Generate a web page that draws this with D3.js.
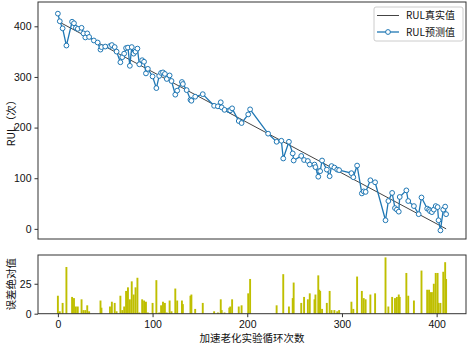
<!DOCTYPE html>
<html><head><meta charset="utf-8">
<script src="https://cdn.jsdelivr.net/npm/d3@7"></script>
<style>
body{margin:0;background:#fff;}
text{font-family:"Noto Sans CJK SC","DejaVu Sans",sans-serif;}
</style></head>
<body><svg id="c" width="468" height="346"></svg>
<script>
// ---- data ----
const cycles = [0,2,5,9,15,17,19,21,25,27,29,31,33,38,42,45,46,50,55,57,60,62,66,68,70,72,74,76,78,80,82,84,86,89,91,93,95,100,104,107,109,111,113,115,118,120,124,126,131,132,136,140,141,145,153,165,169,172,173,176,181,182,184,191,194,201,203,222,231,236,238,244,248,249,257,260,264,266,271,272,275,276,277,279,284,287,289,292,295,297,310,312,316,321,323,325,330,335,346,349,353,356,358,360,361,368,370,376,381,384,390,392,393,395,397,399,401,402,404,407,409,410];
const predRUL = [425,410,396,362,409,406,397,395,397,386,378,386,379,372,368,354,359,360,361,363,359,350,329,339,346,357,358,322,359,346,350,356,325,333,330,307,316,301,278,302,308,309,306,296,303,292,265,273,290,286,274,255,253,261,266,243,242,250,240,235,234,234,238,213,209,226,236,188,172,174,139,172,149,135,144,136,134,127,127,122,103,114,114,135,117,104,124,121,117,116,110,102,125,70,74,73,96,92,17,55,71,41,38,34,63,76,55,45,29,62,40,38,35,33,38,45,43,17,-3,38,44,29];
const absError = [15,2,9,39,14,13,6,6,12,3,3,7,2,0,0,11,5,0,6,10,9,2,15,3,6,19,22,12,27,16,22,30,1,12,11,10,1,9,28,1,7,10,9,1,11,2,21,11,11,8,0,15,16,4,9,2,1,12,3,1,5,6,12,6,7,17,29,0,7,0,33,6,13,26,9,14,12,17,12,16,32,20,19,4,9,19,3,3,2,3,10,4,31,19,13,12,16,17,47,6,14,13,14,16,14,34,15,11,0,36,20,20,18,18,25,34,34,9,9,35,43,29];
const trueCycles = [0, 410];
const trueRUL = [410, 0];
const topTicks = [0,100,200,300,400];
const bottomTicks = [0,25];
const xTicks = [0,100,200,300,400];
const legendLabels = ["RUL真实值","RUL预测值"];
const yLabelTop = "RUL（次）";
const yLabelBottom = "误差绝对值";
const xLabel = "加速老化实验循环次数";

// ---- drawing ----
const svg = d3.select("#c");
const L = 38, R = 466;
const topT = 2, topB = 239, botT = 255, botB = 313.7;
const x = d3.scaleLinear().domain([-21, 431]).range([L, R]);
const yT = d3.scaleLinear().domain([-20, 448]).range([topB, topT]);
const yB = d3.scaleLinear().domain([0, 49]).range([botB, botT]);
const blue = "#1f77b4", spine = "#333";

// bars
const bars = cycles.map((c,i)=>({c, e: absError[i]}));
svg.append("g").selectAll("rect").data(bars).join("rect")
  .attr("x", d => x(d.c - 1))
  .attr("width", d => x(d.c + 1) - x(d.c - 1))
  .attr("y", d => yB(d.e))
  .attr("height", d => yB(0) - yB(d.e))
  .attr("fill", "#bfbf00");

// true line
const tl = trueCycles.map((c,i)=>[c, trueRUL[i]]);
svg.append("path").datum(tl)
  .attr("d", d3.line().x(d=>x(d[0])).y(d=>yT(d[1])))
  .attr("fill","none").attr("stroke","#444").attr("stroke-width",1);

// predicted
const pl = cycles.map((c,i)=>[c, predRUL[i]]);
svg.append("path").datum(pl)
  .attr("d", d3.line().x(d=>x(d[0])).y(d=>yT(d[1])))
  .attr("fill","none").attr("stroke",blue).attr("stroke-width",1.3);
svg.append("g").selectAll("circle").data(pl).join("circle")
  .attr("cx", d=>x(d[0])).attr("cy", d=>yT(d[1])).attr("r", 2.4)
  .attr("fill","#fff").attr("stroke",blue).attr("stroke-width",1);

// frames
function frame(t,b){
  svg.append("rect").attr("x",L).attr("y",t).attr("width",R-L).attr("height",b-t)
    .attr("fill","none").attr("stroke",spine).attr("stroke-width",1);
}
frame(topT, topB); frame(botT, botB);

// axes
const ay1 = svg.append("g").attr("transform",`translate(${L},0)`)
  .call(d3.axisLeft(yT).tickValues(topTicks).tickSize(3.5).tickPadding(3));
const ay2 = svg.append("g").attr("transform",`translate(${L},0)`)
  .call(d3.axisLeft(yB).tickValues(bottomTicks).tickSize(3.5).tickPadding(3));
const ax = svg.append("g").attr("transform",`translate(0,${botB})`)
  .call(d3.axisBottom(x).tickValues(xTicks).tickSize(3.5).tickPadding(3));
[ay1,ay2,ax].forEach(g=>{
  g.select(".domain").remove();
  g.selectAll("line").attr("stroke",spine);
  g.selectAll("text").attr("font-size",10.5).attr("fill","#111")
   .style("font-family",'"Liberation Sans",Arial,sans-serif');
});

// labels
svg.append("text").attr("transform",`translate(15,${(topT+topB)/2}) rotate(-90)`)
  .attr("text-anchor","middle").attr("font-size",10.5).attr("fill","#111").text(yLabelTop);
svg.append("text").attr("transform",`translate(15,${(botT+botB)/2}) rotate(-90)`)
  .attr("text-anchor","middle").attr("font-size",10.5).attr("fill","#111").text(yLabelBottom);
svg.append("text").attr("x",(L+R)/2).attr("y",342)
  .attr("text-anchor","middle").attr("font-size",10.5).attr("fill","#111").text(xLabel);

// legend
const lg = svg.append("g");
lg.append("rect").attr("x",374).attr("y",7).attr("width",89).attr("height",34).attr("rx",2)
  .attr("fill","#fff").attr("fill-opacity",0.85).attr("stroke","#ccc").attr("stroke-width",1);
lg.append("line").attr("x1",377).attr("x2",399).attr("y1",15.5).attr("y2",15.5)
  .attr("stroke","#444").attr("stroke-width",1);
lg.append("line").attr("x1",377).attr("x2",399).attr("y1",32).attr("y2",32)
  .attr("stroke",blue).attr("stroke-width",1.3);
lg.append("circle").attr("cx",388).attr("cy",32).attr("r",2.4)
  .attr("fill","#fff").attr("stroke",blue).attr("stroke-width",1);
legendLabels.forEach((t,i)=>{
  lg.append("text").attr("x",406).attr("y",19+i*16.5).attr("font-size",10)
    .attr("fill","#111").text(t);
});
</script></body></html>
